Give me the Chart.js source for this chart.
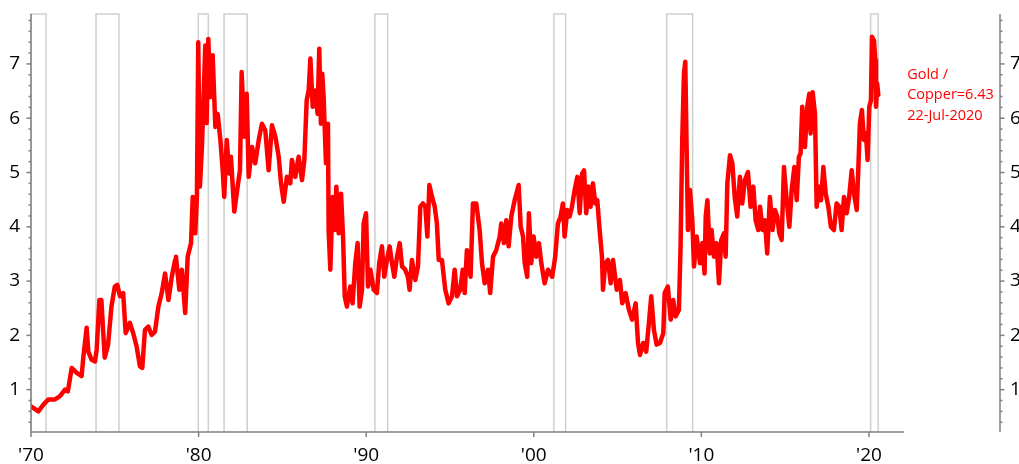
<!DOCTYPE html>
<html>
<head>
<meta charset="utf-8">
<script src="https://cdn.jsdelivr.net/npm/chart.js@4.4.0/dist/chart.umd.min.js"></script>
<style>
  html, body { margin: 0; padding: 0; background: #fff; overflow: hidden; }
  #wrap { position: relative; width: 1040px; height: 464px; }
</style>
</head>
<body>
<div id="wrap"><canvas id="chart"></canvas></div>
<script>
// Gold / Copper ratio
const years = [
  1970.00, 1970.20, 1970.44, 1970.73, 1971.03, 1971.43, 1971.73, 1972.03, 1972.20, 1972.43,
  1972.73, 1973.02, 1973.12, 1973.32, 1973.42, 1973.62, 1973.82, 1973.92, 1974.08, 1974.20,
  1974.30, 1974.40, 1974.60, 1974.80, 1975.00, 1975.15, 1975.31, 1975.50, 1975.65, 1975.90,
  1976.10, 1976.30, 1976.50, 1976.64, 1976.80, 1977.00, 1977.20, 1977.40, 1977.60, 1977.80,
  1978.00, 1978.20, 1978.40, 1978.60, 1978.65, 1978.85, 1979.00, 1979.20, 1979.35, 1979.55,
  1979.65, 1979.80, 1979.90, 1979.98, 1980.08, 1980.20, 1980.40, 1980.48, 1980.58, 1980.70,
  1980.84, 1981.00, 1981.14, 1981.30, 1981.44, 1981.53, 1981.68, 1981.83, 1981.93, 1982.13,
  1982.33, 1982.47, 1982.57, 1982.73, 1982.87, 1982.99, 1983.19, 1983.38, 1983.59, 1983.78,
  1983.98, 1984.18, 1984.38, 1984.58, 1984.78, 1984.92, 1985.08, 1985.27, 1985.47, 1985.57,
  1985.77, 1985.97, 1986.17, 1986.31, 1986.45, 1986.57, 1986.67, 1986.81, 1986.97, 1987.10,
  1987.20, 1987.30, 1987.38, 1987.46, 1987.60, 1987.72, 1987.76, 1987.86, 1988.00, 1988.12,
  1988.22, 1988.36, 1988.50, 1988.62, 1988.72, 1988.85, 1989.05, 1989.19, 1989.35, 1989.49,
  1989.61, 1989.75, 1989.85, 1989.99, 1990.11, 1990.25, 1990.45, 1990.64, 1990.78, 1990.94,
  1991.08, 1991.24, 1991.40, 1991.54, 1991.68, 1991.84, 1992.00, 1992.14, 1992.33, 1992.49,
  1992.59, 1992.73, 1992.93, 1993.09, 1993.23, 1993.39, 1993.53, 1993.65, 1993.77, 1993.93,
  1994.09, 1994.22, 1994.33, 1994.52, 1994.72, 1994.92, 1995.12, 1995.28, 1995.42, 1995.61,
  1995.76, 1995.88, 1996.01, 1996.23, 1996.37, 1996.57, 1996.77, 1996.91, 1997.07, 1997.27,
  1997.40, 1997.57, 1997.76, 1997.97, 1998.06, 1998.22, 1998.36, 1998.50, 1998.66, 1998.86,
  1999.10, 1999.22, 1999.36, 1999.46, 1999.61, 1999.71, 1999.85, 1999.99, 2000.15, 2000.31,
  2000.45, 2000.65, 2000.85, 2001.10, 2001.28, 2001.44, 2001.60, 2001.74, 2001.84, 2002.00,
  2002.14, 2002.28, 2002.44, 2002.60, 2002.74, 2002.88, 2003.00, 2003.13, 2003.27, 2003.39,
  2003.53, 2003.67, 2003.79, 2003.93, 2004.07, 2004.13, 2004.27, 2004.43, 2004.59, 2004.73,
  2004.95, 2005.14, 2005.28, 2005.48, 2005.68, 2005.87, 2006.08, 2006.22, 2006.34, 2006.53,
  2006.71, 2006.87, 2007.01, 2007.17, 2007.33, 2007.53, 2007.73, 2007.81, 2008.00, 2008.17,
  2008.32, 2008.46, 2008.66, 2008.76, 2008.86, 2008.96, 2009.04, 2009.12, 2009.20, 2009.32,
  2009.46, 2009.56, 2009.72, 2009.92, 2010.06, 2010.19, 2010.26, 2010.36, 2010.50, 2010.61,
  2010.75, 2010.91, 2011.05, 2011.19, 2011.35, 2011.45, 2011.55, 2011.71, 2011.85, 2011.99,
  2012.14, 2012.30, 2012.44, 2012.60, 2012.78, 2012.94, 2013.10, 2013.24, 2013.40, 2013.50,
  2013.66, 2013.79, 2013.93, 2014.09, 2014.25, 2014.39, 2014.53, 2014.65, 2014.79, 2014.93,
  2015.09, 2015.25, 2015.39, 2015.55, 2015.69, 2015.82, 2015.92, 2016.02, 2016.18, 2016.32,
  2016.44, 2016.52, 2016.64, 2016.78, 2016.88, 2017.02, 2017.14, 2017.28, 2017.42, 2017.58,
  2017.73, 2017.91, 2018.07, 2018.23, 2018.37, 2018.51, 2018.67, 2018.82, 2018.97, 2019.11,
  2019.27, 2019.37, 2019.46, 2019.58, 2019.70, 2019.82, 2019.92, 2020.02, 2020.12, 2020.18,
  2020.30, 2020.38, 2020.42, 2020.49, 2020.56
];
const ratio = [
  0.69, 0.65, 0.60, 0.72, 0.82, 0.82, 0.88, 1.00, 0.97, 1.40,
  1.31, 1.25, 1.59, 2.14, 1.70, 1.55, 1.52, 1.74, 2.65, 2.65,
  2.10, 1.59, 1.83, 2.53, 2.90, 2.93, 2.72, 2.78, 2.04, 2.23,
  2.04, 1.80, 1.43, 1.40, 2.10, 2.16, 2.01, 2.07, 2.53, 2.78,
  3.14, 2.65, 3.08, 3.39, 3.45, 2.84, 3.21, 2.41, 3.45, 3.70,
  4.55, 3.88, 4.55, 7.40, 4.74, 5.47, 7.34, 5.91, 7.46, 6.39,
  7.16, 5.84, 6.08, 5.60, 5.04, 4.55, 5.60, 4.98, 5.29, 4.28,
  4.74, 5.04, 6.85, 5.66, 6.45, 4.92, 5.47, 5.17, 5.60, 5.90,
  5.78, 5.04, 5.87, 5.66, 5.29, 4.80, 4.46, 4.92, 4.80, 5.23,
  4.92, 5.29, 4.86, 5.23, 6.33, 6.51, 7.10, 6.21, 6.51, 6.08,
  7.28, 5.90, 6.82, 6.39, 5.17, 5.90, 3.94, 3.21, 4.55, 3.94,
  4.74, 3.88, 4.61, 3.82, 2.72, 2.53, 2.90, 2.59, 3.33, 3.70,
  2.53, 2.84, 4.06, 4.25, 2.90, 3.21, 2.84, 2.78, 3.33, 3.64,
  3.08, 3.39, 3.64, 3.33, 3.08, 3.45, 3.70, 3.27, 3.21, 3.08,
  2.84, 3.39, 3.02, 3.27, 4.37, 4.43, 4.37, 3.82, 4.77, 4.55,
  4.37, 4.06, 3.39, 3.39, 2.84, 2.59, 2.72, 3.21, 2.72, 2.84,
  3.21, 2.78, 3.57, 3.08, 4.43, 4.43, 3.94, 3.33, 2.96, 3.21,
  2.78, 3.45, 3.57, 3.82, 4.06, 3.70, 4.12, 3.64, 4.19, 4.49,
  4.77, 4.00, 3.82, 3.33, 3.08, 4.25, 3.33, 3.82, 3.45, 3.70,
  3.33, 2.96, 3.21, 3.08, 3.45, 4.06, 4.19, 4.43, 3.82, 4.31,
  4.19, 4.37, 4.68, 4.92, 4.25, 4.98, 5.04, 4.25, 4.74, 4.37,
  4.80, 4.43, 4.49, 3.94, 3.45, 2.84, 3.33, 3.39, 2.96, 3.39,
  2.84, 3.02, 2.59, 2.78, 2.47, 2.29, 2.59, 1.86, 1.64, 1.86,
  1.70, 2.23, 2.72, 2.10, 1.83, 1.86, 2.04, 2.78, 2.90, 2.29,
  2.65, 2.35, 2.47, 3.64, 5.60, 6.82, 7.04, 5.47, 3.94, 4.68,
  4.12, 3.27, 3.82, 3.33, 3.70, 3.14, 4.19, 4.49, 3.51, 3.94,
  3.45, 3.70, 2.96, 3.76, 3.88, 3.45, 4.80, 5.32, 5.17, 4.55,
  4.19, 4.92, 4.43, 4.86, 5.01, 4.37, 4.74, 4.12, 3.94, 4.37,
  3.94, 4.12, 3.51, 4.55, 3.94, 4.31, 4.19, 3.88, 3.76, 5.10,
  4.49, 4.00, 4.68, 5.10, 4.49, 5.29, 5.35, 6.21, 5.47, 6.21,
  6.45, 5.72, 6.48, 6.08, 4.37, 4.74, 4.49, 5.10, 4.61, 4.37,
  4.00, 3.94, 4.43, 4.37, 3.94, 4.55, 4.25, 4.55, 5.04, 4.61,
  4.31, 5.10, 5.90, 6.15, 5.60, 5.72, 5.23, 6.21, 6.33, 7.50,
  7.43, 7.07, 6.21, 6.64, 6.43
];
const lastDate = '22-Jul-2020';

// US recessions (shaded boxes)
const recessionStart = [1970.00, 1973.88, 1979.98, 1981.52, 1990.52, 2001.20, 2007.93, 2020.10];
const recessionEnd   = [1970.90, 1975.25, 1980.58, 1982.90, 1991.28, 2001.90, 2009.48, 2020.55];

const decadeTicks = [1970, 1980, 1990, 2000, 2010, 2020];
const yMajorTicks = [1, 2, 3, 4, 5, 6, 7];

const Y_MIN = 0.22, Y_MAX = 7.92;
const X_MIN = 1970, X_AXIS_END = 2022.1, X_MAX = 2027.82;

const RED = '#ff0000';
const AXIS = '#808080';
const BOX = '#cfcfcf';
const FONT = "'Open Sans', sans-serif";

const seriesData = years.map((x, i) => ({ x, y: ratio[i] }));

const recessionDatasets = recessionStart.map((s, i) => ({
  data: [
    { x: s, y: Y_MIN }, { x: s, y: Y_MAX },
    { x: recessionEnd[i], y: Y_MAX }, { x: recessionEnd[i], y: Y_MIN },
  ],
  borderColor: BOX,
  borderWidth: 1.5,
  pointRadius: 0,
  tension: 0,
  clip: false,
}));

// axis lines, tick marks and the end-of-series label
const axisPlugin = {
  id: 'axisLines',
  afterDraw(chart) {
    const { ctx, scales: { x, y, y2 } } = chart;
    const bottom = y.getPixelForValue(Y_MIN);
    const top = y.getPixelForValue(Y_MAX);
    const seg = (x1, y1, x2, y2_) => { ctx.beginPath(); ctx.moveTo(x1, y1); ctx.lineTo(x2, y2_); ctx.stroke(); };

    ctx.save();
    ctx.strokeStyle = AXIS;
    ctx.lineWidth = 1.5;
    seg(x.getPixelForValue(X_MIN), bottom, x.getPixelForValue(X_AXIS_END), bottom);
    decadeTicks.forEach(t => {
      const px = x.getPixelForValue(t);
      seg(px, bottom, px, bottom + 5);
    });

    [[y, -1], [y2, 1]].forEach(([s, dir]) => {
      const ax = dir < 0 ? s.right : s.left;
      seg(ax, top, ax, bottom);
      for (let k = 2; k <= 39; k++) {
        const v = k / 5;
        const py = s.getPixelForValue(v);
        const len = k % 5 === 0 ? 4.5 : 2.5;
        seg(ax, py, ax + dir * len, py);
      }
    });

    const last = ratio[ratio.length - 1];
    const cy = y.getPixelForValue(last);
    const lx = x.getPixelForValue(X_AXIS_END) + 3;
    ctx.fillStyle = RED;
    ctx.font = `14.5px ${FONT}`;
    ctx.textAlign = 'left';
    ctx.textBaseline = 'middle';
    ctx.fillText('Gold /', lx, cy - 20.5);
    ctx.fillText('Copper=' + last.toFixed(2), lx, cy);
    ctx.fillText(lastDate, lx, cy + 20.5);
    ctx.restore();
  },
};

const tickFont = { family: FONT, size: 19 };
const noPad = s => { s.paddingTop = 0; s.paddingBottom = 0; };

new Chart(document.getElementById('chart'), {
  type: 'line',
  data: {
    datasets: [
      {
        data: seriesData,
        borderColor: RED,
        borderWidth: 4.5,
        borderJoinStyle: 'round',
        borderCapStyle: 'round',
        pointRadius: 0,
        tension: 0,
      },
      ...recessionDatasets,
    ],
  },
  options: {
    responsive: true,
    maintainAspectRatio: false,
    animation: false,
    layout: { padding: { top: 14, left: 0, right: 0, bottom: 0 } },
    plugins: { legend: { display: false }, tooltip: { enabled: false } },
    scales: {
      x: {
        type: 'linear',
        min: X_MIN,
        max: X_MAX,
        afterBuildTicks: s => { s.ticks = decadeTicks.map(v => ({ value: v })); },
        afterFit: s => { s.height = 32; s.paddingLeft = 0; s.paddingRight = 0; },
        grid: { display: false, drawTicks: false },
        border: { display: false },
        ticks: {
          autoSkip: false,
          maxRotation: 0,
          padding: 12,
          color: '#000',
          font: tickFont,
          callback: v => "'" + String(v).slice(2),
        },
      },
      y: {
        position: 'left',
        min: Y_MIN,
        max: Y_MAX,
        afterBuildTicks: s => { s.ticks = yMajorTicks.map(v => ({ value: v })); },
        afterFit: s => { s.width = 31; noPad(s); },
        grid: { display: false, drawTicks: false },
        border: { display: false },
        ticks: { padding: 11, color: '#000', font: tickFont },
      },
      y2: {
        position: 'right',
        min: Y_MIN,
        max: Y_MAX,
        afterBuildTicks: s => { s.ticks = yMajorTicks.map(v => ({ value: v })); },
        afterFit: s => { s.width = 40; noPad(s); },
        grid: { display: false, drawTicks: false },
        border: { display: false },
        ticks: { padding: 10, color: '#000', font: tickFont },
      },
    },
  },
  plugins: [axisPlugin],
});
</script>
</body>
</html>
